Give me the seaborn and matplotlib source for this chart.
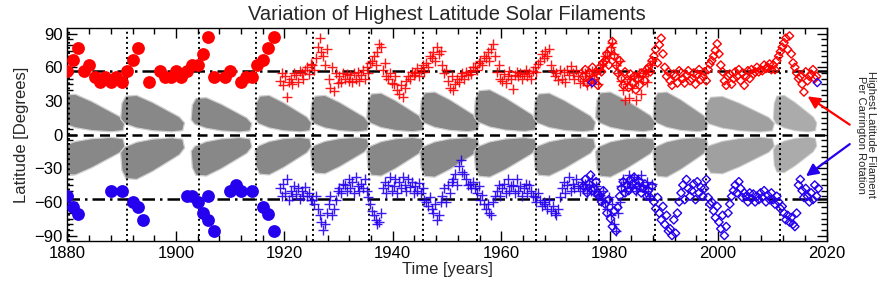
import matplotlib
matplotlib.use('Agg')
import matplotlib.pyplot as plt
import numpy as np
import seaborn as sns

# yearly highest latitude (circles), 1880-1918
circ_n_year = [1880, 1881, 1882, 1883, 1884, 1885, 1886, 1887, 1888, 1889, 1890, 1891, 1892, 1893, 1895,
               1897, 1898, 1899, 1900, 1901, 1902, 1903, 1904, 1905, 1906, 1907, 1909, 1910, 1912, 1913,
               1914, 1915, 1916, 1917, 1918]
circ_n_lat = [57, 67, 77, 57, 62, 51, 47, 51, 47, 51, 47, 57, 67, 77, 47,
              57, 51, 51, 57, 51, 57, 62, 62, 72, 87, 51, 51, 57, 47, 51,
              51, 62, 67, 77, 87]
circ_s_year = [1880, 1881, 1882, 1888, 1890, 1892, 1893, 1894, 1902, 1903, 1904, 1905, 1906, 1906,
               1907, 1910, 1911, 1912, 1914, 1916, 1917, 1918]
circ_s_lat = [-55, -65, -71, -50, -50, -60, -65, -76, -55, -55, -60, -70, -55, -76,
              -86, -50, -45, -50, -50, -65, -71, -86]

# per Carrington rotation (plus), 1919-1987, three readings per year
plus_start = 1919
plus_n_lat = [48, 55, 44, 52, 34, 47, 50, 45, 55, 53, 47, 57, 55, 50, 58, 60, 54, 63, 62, 58, 68,
              78, 86, 74, 70, 62, 76, 50, 42, 60, 39, 55, 46, 52, 47, 55, 50, 54, 48, 53, 47, 55,
              50, 56, 48, 53, 58, 50, 60, 55, 64, 66, 70, 62, 74, 81, 78, 58, 64, 52, 50, 55, 46,
              45, 52, 40, 36, 44, 34, 42, 48, 52, 50, 56, 53, 55, 59, 52, 58, 62, 56, 64, 60, 70,
              68, 74, 66, 78, 72, 75, 62, 55, 58, 48, 42, 52, 40, 45, 50, 47, 52, 55, 50, 56, 53,
              57, 54, 60, 60, 58, 64, 66, 62, 70, 68, 74, 66, 76, 81, 70, 56, 62, 50, 48, 54, 46,
              52, 57, 50, 41, 53, 56, 52, 55, 50, 54, 58, 52, 55, 50, 57, 60, 56, 63, 66, 72, 68,
              75, 70, 76, 62, 57, 52, 55, 49, 58, 50, 56, 47, 58, 53, 61, 55, 50, 58, 52, 46, 56,
              48, 55, 44, 52, 46, 57, 50, 55, 45, 58, 62, 66, 70, 74, 68, 78, 82, 72, 62, 55, 66,
              48, 40, 31, 45, 33, 50, 42, 52, 31, 48, 55, 36, 52, 58, 47, 56, 62, 66]
plus_s_lat = [-48, -55, -44, -52, -40, -58, -50, -55, -46, -53, -48, -57, -50, -55, -47, -55, -52, -58,
              -58, -62, -55, -66, -72, -78, -85, -80, -70, -62, -55, -72, -66, -58, -50, -48, -52, -44,
              -45, -50, -40, -48, -42, -52, -38, -46, -50, -44, -48, -40, -50, -56, -62, -68, -72, -76,
              -80, -78, -70, -48, -42, -52, -45, -38, -50, -46, -40, -52, -42, -48, -38, -45, -50, -40,
              -47, -42, -52, -46, -50, -43, -52, -48, -58, -60, -64, -56, -66, -70, -62, -76, -72, -60,
              -55, -48, -60, -45, -52, -42, -40, -35, -45, -28, -23, -33, -35, -40, -45, -44, -48, -42,
              -48, -52, -46, -58, -54, -62, -66, -62, -70, -72, -60, -55, -50, -45, -55, -48, -44, -52,
              -40, -50, -46, -45, -52, -40, -50, -46, -55, -48, -44, -52, -45, -50, -55, -56, -60, -52,
              -58, -64, -60, -62, -66, -58, -68, -64, -70, -72, -66, -56, -48, -42, -52, -45, -38, -50,
              -44, -48, -40, -46, -50, -42, -48, -44, -52, -45, -50, -40, -50, -46, -55, -54, -58, -50,
              -60, -66, -56, -72, -62, -80, -86, -70, -60, -46, -40, -50, -42, -36, -48, -44, -38, -50,
              -40, -46, -36, -45, -50, -42, -48, -55, -44]

# per Carrington rotation (diamond), 1975-2018, three readings per year
dia_start = 1975
dia_n_lat = [52, 58, 46, 55, 48, 60, 50, 56, 44, 60, 56, 64, 66, 72, 62, 76, 83, 70, 62, 55, 66,
             50, 44, 56, 48, 42, 54, 46, 52, 40, 50, 44, 55, 54, 48, 58, 60, 56, 66, 70, 76, 64,
             80, 86, 72, 60, 52, 56, 48, 44, 54, 52, 46, 57, 55, 50, 46, 53, 57, 48, 50, 55, 45,
             54, 58, 49, 52, 56, 48, 58, 63, 66, 70, 75, 81, 72, 62, 56, 48, 44, 52, 54, 45, 50,
             56, 52, 58, 48, 55, 44, 52, 57, 50, 58, 54, 56, 60, 56, 58, 57, 62, 59, 60, 63, 58,
             62, 58, 66, 70, 74, 78, 82, 86, 76, 88, 72, 64, 60, 55, 50, 52, 45, 38, 56, 48, 52,
             54, 58, 50, 52]
dia_s_lat = [-46, -40, -52, -44, -36, -50, -48, -42, -54, -55, -60, -50, -62, -70, -58, -75, -82, -68,
             -86, -65, -55, -48, -42, -52, -45, -50, -40, -44, -38, -50, -46, -42, -52, -48, -44, -55,
             -50, -56, -46, -60, -66, -56, -70, -76, -64, -80, -72, -86, -84, -90, -76, -88, -70, -60,
             -52, -45, -58, -40, -48, -55, -50, -44, -58, -42, -52, -47, -55, -48, -40, -56, -62, -60,
             -68, -74, -64, -78, -84, -72, -90, -82, -70, -62, -55, -50, -45, -52, -42, -48, -56, -52,
             -55, -60, -52, -57, -53, -60, -55, -58, -52, -56, -50, -60, -54, -58, -52, -58, -62, -55,
             -60, -66, -64, -70, -76, -72, -78, -74, -80, -82, -70, -45, -40, -50, -56, -48, -55, -60,
             -52, -58, -45, -55, -48]
odd_year = [1976.8, 2018.3]
odd_lat = [46.5, 46.5]

# cycle boundaries and filament butterfly wings
cycle_min = [1880.2, 1890.9, 1904.3, 1914.8, 1925.3, 1935.6, 1945.6, 1955.6, 1966.4, 1978.1,
             1988.4, 1997.8, 2011.5]
wing_start = [1878.4, 1889.8, 1902.8, 1914.6, 1924.8, 1935.2, 1945.0, 1955.0, 1966.0, 1977.4,
              1988.0, 1997.6, 2010.2]
wing_end = [1890.6, 1901.6, 1914.0, 1925.0, 1935.6, 1945.8, 1956.0, 1966.6, 1977.4, 1988.4,
            1998.2, 2010.4, 2018.2]
wing_top_n = [36, 35, 33, 35, 35, 37, 38, 40, 37, 38, 38, 34, 35]
wing_top_s = [-36, -40, -37, -36, -35, -37, -38, -38, -37, -38, -38, -35, -34]
wing_alpha = [1.0, 1.0, 1.0, 1.0, 1.0, 1.0, 1.0, 1.0, 0.95, 0.95, 0.9, 0.8, 0.7]

# outline of one wing, as fractions of its duration and peak latitude
wing_fx = [0.00, 0.02, 0.08, 0.25, 0.50, 0.75, 0.92, 1.00, 0.97, 0.80, 0.50, 0.25, 0.06]
wing_fy = [0.40, 0.80, 0.98, 1.00, 0.82, 0.60, 0.45, 0.30, 0.10, 0.07, 0.10, 0.17, 0.28]

RED = '#ff0000'
BLUE = '#2400ee'
GRAY = '#888888'

sns.set_theme(style='ticks')
plt.rcParams['font.family'] = ['Liberation Sans', 'DejaVu Sans']

fig = plt.figure(figsize=(8.94, 2.84), dpi=100)
ax = fig.add_axes([0.0755, 0.151, 0.849, 0.750])

for t0, t1, hn, hs, a in zip(wing_start, wing_end, wing_top_n, wing_top_s, wing_alpha):
    xs = [t0 + f * (t1 - t0) for f in wing_fx]
    for h in (hn, hs):
        ys = [f * h for f in wing_fy]
        ax.fill(xs, ys, facecolor=GRAY, edgecolor='#cfcfcf', lw=0.9, alpha=a, zorder=1)

for t in cycle_min:
    ax.axvline(t, color='black', ls=(0, (1, 1.6)), lw=1.4, zorder=2)
ax.axhline(0, color='black', ls=(0, (4, 2.5)), lw=1.8, zorder=2)
for lat in (57, -57):
    ax.axhline(lat, color='black', ls=(0, (5, 2, 1, 2)), lw=1.8, zorder=2)

plus_n_t = plus_start + 1 / 6 + np.arange(len(plus_n_lat)) / 3
plus_s_t = plus_start + 1 / 6 + np.arange(len(plus_s_lat)) / 3
dia_n_t = dia_start + 1 / 6 + np.arange(len(dia_n_lat)) / 3
dia_s_t = dia_start + 1 / 6 + np.arange(len(dia_s_lat)) / 3

sns.scatterplot(x=plus_n_t, y=plus_n_lat, marker='+', s=50, color=RED, linewidth=1.0, alpha=0.9, ax=ax, zorder=3)
sns.scatterplot(x=plus_s_t, y=plus_s_lat, marker='+', s=50, color=BLUE, linewidth=1.0, alpha=0.9, ax=ax, zorder=3)
sns.scatterplot(x=dia_n_t, y=dia_n_lat, marker='D', s=18, facecolor='none', edgecolor=RED, linewidth=1.0, ax=ax, zorder=3)
sns.scatterplot(x=dia_s_t, y=dia_s_lat, marker='D', s=18, facecolor='none', edgecolor=BLUE, linewidth=1.0, ax=ax, zorder=3)
sns.scatterplot(x=odd_year, y=odd_lat, marker='D', s=18, facecolor='none', edgecolor=BLUE, linewidth=1.0, ax=ax, zorder=3)
sns.scatterplot(x=circ_n_year, y=circ_n_lat, marker='o', s=85, color=RED, linewidth=0, ax=ax, zorder=4)
sns.scatterplot(x=circ_s_year, y=circ_s_lat, marker='o', s=85, color=BLUE, linewidth=0, ax=ax, zorder=4)

ax.set_xlim(1880, 2020)
ax.set_ylim(-95, 95)
ax.set_xticks(range(1880, 2021, 20))
ax.set_xticks(range(1880, 2021, 4), minor=True)
ax.set_yticks(range(-90, 91, 30))
ax.set_yticks(range(-90, 91, 5), minor=True)
ax.tick_params(which='both', direction='in', top=True, right=True, labelsize=12, colors='black')
ax.tick_params(which='major', length=7, width=1)
ax.tick_params(which='minor', length=4, width=1)
for sp in ax.spines.values():
    sp.set_color('black')
    sp.set_linewidth(1)

ax.set_xlabel('Time [years]', fontsize=12, labelpad=1)
ax.set_ylabel('Latitude [Degrees]', fontsize=12, labelpad=4)
ax.set_title('Variation of Highest Latitude Solar Filaments', fontsize=14.5, pad=6)

ax.text(2027.3, 0, 'Highest Latitude Filament\nPer Carrington Rotation', rotation=270,
        ha='center', va='center', fontsize=8, linespacing=1.1, clip_on=False)
ax.annotate('', xy=(2016.1, 35.5), xytext=(2024.7, 7.5), annotation_clip=False,
            arrowprops=dict(arrowstyle='-|>', color=RED, lw=1.6, mutation_scale=18))
ax.annotate('', xy=(2015.8, -38.5), xytext=(2024.7, -7.0), annotation_clip=False,
            arrowprops=dict(arrowstyle='-|>', color=BLUE, lw=1.6, mutation_scale=18))

fig.savefig('out.png', dpi=100)
